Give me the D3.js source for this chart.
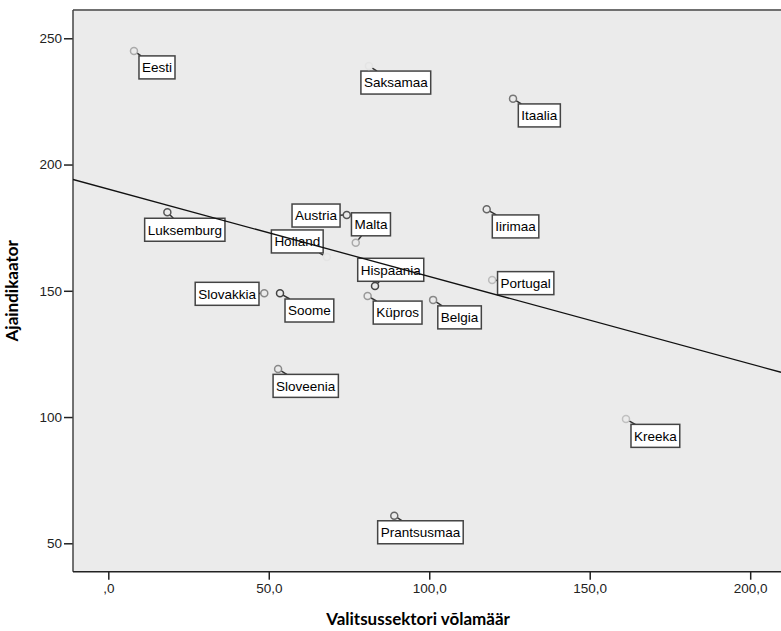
<!DOCTYPE html>
<html>
<head>
<meta charset="utf-8">
<title>Ajaindikaator ja valitsussektori võlamäär</title>
<script src="https://cdn.jsdelivr.net/npm/d3@7"></script>
<style>
  body { margin: 0; background: #fff; }
  svg { display: block; }
  .axis .tick text { font-family: "Liberation Sans", Arial, sans-serif; font-size: 13.5px; fill: #222; }
  .axis .tick line { stroke: #222; stroke-width: 1.5px; }
  .axis .domain { display: none; }
  text.label { font-family: "Liberation Sans", Arial, sans-serif; font-size: 13.5px; fill: #000; }
  rect.label-box { fill: #fff; stroke: #444; stroke-width: 1.5px; }
  text.title { font-family: Lato, "Open Sans", sans-serif; font-weight: bold; font-size: 17px; fill: #000; }
</style>
</head>
<body>
<script>
// andmed
const countries = ["Eesti", "Saksamaa", "Itaalia", "Austria", "Malta", "Luksemburg", "Holland",
  "Hispaania", "Küpros", "Slovakkia", "Soome", "Iirimaa", "Portugal", "Belgia", "Sloveenia",
  "Kreeka", "Prantsusmaa"];
const debt = [8.0, 81.2, 126.1, 74.3, 77.1, 18.4, 68.1, 83.1, 80.8, 48.6, 53.5, 117.9, 119.6,
  101.2, 52.9, 161.3, 89.1];
const timeIndicator = [245, 239, 226.1, 180.0, 169.0, 181.1, 163.4, 151.9, 147.9, 149.0, 149.0,
  182.3, 154.3, 146.4, 119.0, 99.2, 60.9];

const xTickValues = [0, 50, 100, 150, 200];
const xTickLabels = [",0", "50,0", "100,0", "150,0", "200,0"];
const yTickValues = [50, 100, 150, 200, 250];
const yTickLabels = ["50", "100", "150", "200", "250"];

const xTitle = "Valitsussektori võlamäär";
const yTitle = "Ajaindikaator";

// siltide paigutus punkti suhtes (px): ankur, dx, dy
const labelPlacement = [
  ["start", 5, 5], ["start", -8, 5], ["start", 5.3, 5.3], ["end", -6.7, -11],
  ["start", -4.3, -30], ["start", -22.7, 6], ["end", -3.7, -27], ["start", -17.3, -27.7],
  ["start", 5.6, 5], ["end", -5.3, -11], ["start", 5, 5.7], ["start", 5.6, 5.7],
  ["start", 5.4, -8.3], ["start", 4.7, 6], ["start", -5, 5.3], ["start", 5, 5.3],
  ["start", -16.6, 5]
];
// markerite toon
const markerShade = ["#aaa", "#e4e4e4", "#777", "#555", "#aaa", "#555", "#e4e4e4", "#444",
  "#999", "#888", "#444", "#666", "#bbb", "#888", "#888", "#c0c0c0", "#666"];

const w = 781, h = 631;
const plotLeft = 73, plotRight = 781, plotTop = 10, plotBottom = 571.7;

const data = countries.map(function (c, i) {
  return { country: c, x: debt[i], y: timeIndicator[i], place: labelPlacement[i], shade: markerShade[i] };
});

const xScale = d3.scaleLinear().domain([-11, 209.6]).range([plotLeft, plotRight]);
const yScale = d3.scaleLinear().domain([38.75, 261.2]).range([plotBottom, plotTop]);

// lineaarne regressioon
const mx = d3.mean(debt), my = d3.mean(timeIndicator);
let sxy = 0, sxx = 0;
debt.forEach(function (x, i) {
  sxy += (x - mx) * (timeIndicator[i] - my);
  sxx += (x - mx) * (x - mx);
});
const slope = sxy / sxx;
const intercept = my - slope * mx;

const svg = d3.select("body").append("svg")
  .attr("width", w)
  .attr("height", h);

svg.append("defs").append("clipPath").attr("id", "plotclip")
  .append("rect")
  .attr("x", plotLeft).attr("y", plotTop)
  .attr("width", plotRight - plotLeft + 2).attr("height", plotBottom - plotTop);

// taust
svg.append("rect")
  .attr("x", plotLeft).attr("y", plotTop)
  .attr("width", plotRight - plotLeft + 2).attr("height", plotBottom - plotTop)
  .attr("fill", "#ebebeb");

// teljed
const xAxis = d3.axisBottom(xScale)
  .tickValues(xTickValues)
  .tickSize(8)
  .tickPadding(4)
  .tickFormat(function (d, i) { return xTickLabels[i]; });
svg.append("g")
  .attr("class", "axis")
  .attr("transform", "translate(0," + plotBottom + ")")
  .call(xAxis);

const yAxis = d3.axisLeft(yScale)
  .tickValues(yTickValues)
  .tickSize(9)
  .tickPadding(2)
  .tickFormat(function (d, i) { return yTickLabels[i]; });
svg.append("g")
  .attr("class", "axis")
  .attr("transform", "translate(" + plotLeft + ",0)")
  .call(yAxis);

// raam
svg.append("line").attr("x1", plotLeft).attr("x2", plotRight + 2).attr("y1", plotTop).attr("y2", plotTop)
  .attr("stroke", "#707070").attr("stroke-width", 2);
svg.append("line").attr("x1", plotLeft).attr("x2", plotLeft).attr("y1", plotTop).attr("y2", plotBottom)
  .attr("stroke", "#444").attr("stroke-width", 1.5);
svg.append("line").attr("x1", plotLeft).attr("x2", plotRight + 2).attr("y1", plotBottom).attr("y2", plotBottom)
  .attr("stroke", "#222").attr("stroke-width", 1.5);

const plot = svg.append("g").attr("clip-path", "url(#plotclip)");
const r = 3.5;
const boxH = 23, pad = 3;

// sildid
const labels = plot.selectAll("g.lab")
  .data(data)
  .enter()
  .append("g")
  .attr("class", "lab");

labels.each(function (d) {
  const g = d3.select(this);
  const cx = xScale(d.x), cy = yScale(d.y);
  const leader = g.append("line").attr("stroke", "#333").attr("stroke-width", 1.5);
  const box = g.append("rect").attr("class", "label-box");
  const t = g.append("text").attr("class", "label").text(d.country);
  const tw = t.node().getComputedTextLength();
  const bw = tw + 2 * pad;
  const bx = d.place[0] === "end" ? cx + d.place[1] - bw : cx + d.place[1];
  const by = cy + d.place[2];
  box.attr("x", bx).attr("y", by).attr("width", bw).attr("height", boxH);
  t.attr("x", bx + pad).attr("y", by + boxH / 2).attr("dy", "0.36em");

  // joon punktist sildi keskpunkti suunas kuni kasti servani
  const vx = bx + bw / 2 - cx, vy = by + boxH / 2 - cy;
  const tx = vx !== 0 ? ((vx > 0 ? bx : bx + bw) - cx) / vx : -1;
  const ty = vy !== 0 ? ((vy > 0 ? by : by + boxH) - cy) / vy : -1;
  const tEdge = Math.max(tx, ty);
  const len = Math.sqrt(vx * vx + vy * vy);
  if (tEdge > 0 && len * tEdge > r) {
    leader.attr("x1", cx + vx / len * r).attr("y1", cy + vy / len * r)
      .attr("x2", cx + vx * tEdge).attr("y2", cy + vy * tEdge);
  } else {
    leader.remove();
  }
});

// punktid
plot.selectAll("circle")
  .data(data)
  .enter()
  .append("circle")
  .attr("cx", function (d) { return xScale(d.x); })
  .attr("cy", function (d) { return yScale(d.y); })
  .attr("r", r)
  .attr("fill", "none")
  .attr("stroke", function (d) { return d.shade; })
  .attr("stroke-width", 1.5);

// regressioonijoon
const x0 = xScale.domain()[0], x1 = xScale.domain()[1];
plot.append("line")
  .attr("x1", xScale(x0)).attr("y1", yScale(intercept + slope * x0))
  .attr("x2", xScale(x1)).attr("y2", yScale(intercept + slope * x1))
  .attr("stroke", "#111")
  .attr("stroke-width", 1.3);

// telgede pealkirjad
svg.append("text")
  .attr("class", "title")
  .attr("x", 418).attr("y", 625)
  .attr("text-anchor", "middle")
  .text(xTitle);

svg.append("text")
  .attr("class", "title")
  .attr("transform", "translate(18," + ((plotTop + plotBottom) / 2) + ") rotate(-90)")
  .attr("text-anchor", "middle")
  .text(yTitle);
</script>
</body>
</html>
